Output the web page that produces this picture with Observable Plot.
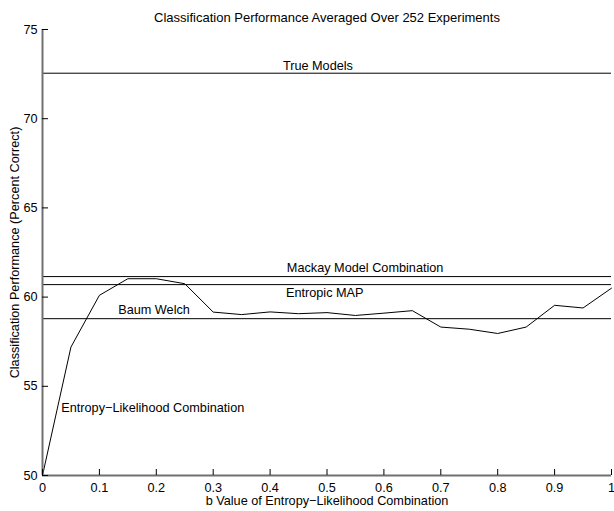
<!DOCTYPE html>
<html>
<head>
<meta charset="utf-8">
<script src="https://cdn.jsdelivr.net/npm/d3@7"></script>
<script src="https://cdn.jsdelivr.net/npm/@observablehq/plot@0.6"></script>
<style>
  html, body { margin: 0; padding: 0; background: #fff; }
  #chart svg { display: block; }
</style>
</head>
<body>
<div id="chart"></div>
<script>
const title = "Classification Performance Averaged Over 252 Experiments";
const xLabel = "b Value of Entropy\u2212Likelihood Combination";
const yLabel = "Classification Performance (Percent Correct)";

const bValues = [0, 0.05, 0.1, 0.15, 0.2, 0.25, 0.3, 0.35, 0.4, 0.45, 0.5, 0.55, 0.6, 0.65, 0.7, 0.75, 0.8, 0.85, 0.9, 0.95, 1.0];
const performance = [50.0, 57.2, 60.1, 61.03, 61.03, 60.75, 59.16, 59.02, 59.17, 59.07, 59.13, 58.97, 59.1, 59.24, 58.32, 58.2, 57.96, 58.32, 59.54, 59.39, 60.5];

const refNames = ["True Models", "Mackay Model Combination", "Entropic MAP", "Baum Welch"];
const refValues = [72.55, 61.15, 60.7, 58.79];

const xTicks = [0, 0.1, 0.2, 0.3, 0.4, 0.5, 0.6, 0.7, 0.8, 0.9, 1];
const yTicks = [50, 55, 60, 65, 70, 75];

// annotation anchors (data coordinates)
const annotText = ["True Models", "Mackay Model Combination", "Entropic MAP", "Baum Welch", "Entropy\u2212Likelihood Combination"];
const annotX = [0.484, 0.567, 0.496, 0.196, 0.033];
const annotY = [72.98, 61.61, 60.23, 59.26, 53.78];
const annotAnchor = ["middle", "middle", "middle", "middle", "start"];

const curve = bValues.map((b, i) => ({b, p: performance[i]}));
const refs = refNames.map((n, i) => ({name: n, v: refValues[i]}));
const annots = annotText.map((t, i) => ({t, x: annotX[i], y: annotY[i], a: annotAnchor[i]}));

const font = "'Liberation Sans', Arial, Helvetica, sans-serif";
const axisGray = "#707070";
const fs = 12.7;
const tickPx = 6;

const chart = Plot.plot({
  width: 614,
  height: 511,
  marginLeft: 42,
  marginRight: 3,
  marginTop: 29,
  marginBottom: 36,
  style: {fontFamily: font, fontSize: fs + "px", color: "#000", background: "#fff"},
  x: {domain: [0, 1]},
  y: {domain: [50, 75]},
  marks: [
    Plot.ruleY(refs, {y: "v", stroke: "#000", strokeWidth: 1}),
    Plot.line(curve, {x: "b", y: "p", stroke: "#000", strokeWidth: 1}),
    Plot.text(annots.filter(d => d.a === "middle"), {x: "x", y: "y", text: "t", textAnchor: "middle", fill: "#000", fontSize: fs}),
    Plot.text(annots.filter(d => d.a === "start"), {x: "x", y: "y", text: "t", textAnchor: "start", fill: "#000", fontSize: fs}),
    Plot.ruleX([0], {stroke: axisGray, strokeWidth: 2}),
    Plot.ruleY([50], {stroke: axisGray, strokeWidth: 2}),
    // inward tick marks: axis ticks shifted back inside the frame
    Plot.axisX({ticks: xTicks, tickSize: tickPx, dy: -tickPx, tickFormat: () => "", stroke: "#000", strokeWidth: 1, label: null}),
    Plot.axisY({ticks: yTicks, tickSize: tickPx, dx: tickPx, tickFormat: () => "", stroke: "#000", strokeWidth: 1, label: null}),
    // tick labels
    Plot.axisY({ticks: yTicks, tickSize: 0, tickPadding: 5, label: null, fontSize: fs}),
    Plot.axisX({ticks: xTicks, tickSize: 0, tickPadding: 7, label: null, fontSize: fs, tickFormat: d => String(d)}),
    Plot.text([xLabel], {frameAnchor: "bottom", dy: 29, fill: "#000", fontSize: fs}),
    Plot.text([yLabel], {frameAnchor: "left", textAnchor: "middle", rotate: -90, dx: -28, fill: "#000", fontSize: fs}),
    Plot.text([title], {frameAnchor: "top", dy: -17, fill: "#000", fontSize: 13})
  ]
});
document.getElementById("chart").appendChild(chart);
</script>
</body>
</html>
